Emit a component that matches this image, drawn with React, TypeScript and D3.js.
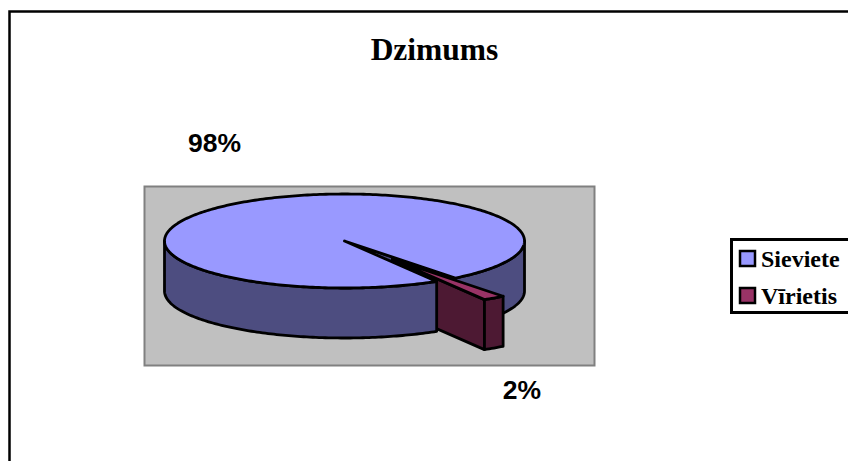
import React from "react";
import * as d3 from "d3";

const categories = ["Sieviete", "Vīrietis"];
const values = [98, 2];
const labels = ["98%", "2%"];
const topColors = ["#9999FF", "#993366"];
const sideColors = ["#4D4D80", "#4D1933"];

const W = 848, H = 461;
const cx = 344.5, cy = 241, rx = 180, ry = 47, depth = 50, explode = 0.47;
const rad = (d: number) => (d * Math.PI) / 180;

const sx = d3.scaleLinear().domain([-1, 1]).range([cx - rx, cx + rx]);
const sy = d3.scaleLinear().domain([-1, 1]).range([cy - ry, cy + ry]);

const startDeg = 149.2;
const slices = d3.pie<number>().sort(null).startAngle(rad(startDeg)).endAngle(rad(startDeg + 360))(values);
const [main, wedge] = slices;
const mid = (wedge.startAngle + wedge.endAngle) / 2;
const off: [number, number] = [Math.sin(mid) * explode, -Math.cos(mid) * explode];

type P = [number, number];
const pt = (a: number, o: P = [0, 0], dz = 0): P => [sx(Math.sin(a) + o[0]), sy(-Math.cos(a) + o[1]) + dz];
const centre = (o: P = [0, 0], dz = 0): P => [sx(o[0]), sy(o[1]) + dz];
const line = d3.line<P>();
const arcPts = (a0: number, a1: number, o: P = [0, 0], dz = 0): P[] => {
  const n = Math.max(2, Math.ceil(Math.abs(a1 - a0) / rad(1)));
  return d3.range(n + 1).map((i) => pt(a0 + ((a1 - a0) * i) / n, o, dz));
};
const closed = (p: P[]) => line(p) + "Z";
const wall = (a0: number, a1: number, o: P = [0, 0]) =>
  closed([...arcPts(a0, a1, o), ...arcPts(a1, a0, o, depth)]);
const face = (a: number, o: P = [0, 0]) =>
  closed([centre(o), pt(a, o), pt(a, o, depth), centre(o, depth)]);
const top = (a0: number, a1: number, o: P = [0, 0]) => closed([centre(o), ...arcPts(a0, a1, o)]);

const mainEnd = main.endAngle - 2 * Math.PI;
const strokeProps = { stroke: "#000", strokeWidth: 2.8, strokeLinejoin: "round" as const };

export default function App() {
  return (
    <svg width={W} height={H} style={{ position: "fixed", left: 0, top: 0, background: "#fff" }}>
      <rect x={9.5} y={11.5} width={W} height={H} fill="#fff" stroke="#000" strokeWidth={2.5} />
      <text x={434.5} y={60} textAnchor="middle" fontFamily="Liberation Serif" fontWeight="bold" fontSize={31.5}>
        Dzimums
      </text>
      <rect x={144.5} y={186.5} width={450} height={179} fill="#C0C0C0" stroke="#808080" strokeWidth={2} />

      {/* main slice: right wall and exposed cut */}
      <path d={wall(rad(90), mainEnd)} fill={sideColors[0]} {...strokeProps} />
      <path d={face(mainEnd)} fill={sideColors[0]} {...strokeProps} />
      {/* exploded slice walls */}
      <path d={face(wedge.endAngle, off)} fill={sideColors[1]} {...strokeProps} />
      <path d={wall(wedge.startAngle, wedge.endAngle, off)} fill={sideColors[1]} {...strokeProps} />
      {/* main slice: left wall and top */}
      <path d={wall(main.startAngle, rad(270))} fill={sideColors[0]} {...strokeProps} />
      <path d={top(main.startAngle, main.endAngle)} fill={topColors[0]} {...strokeProps} />
      <path d={top(wedge.startAngle, wedge.endAngle, off)} fill={topColors[1]} {...strokeProps} />

      <text x={214.5} y={152} textAnchor="middle" fontFamily="Liberation Sans" fontWeight="bold" fontSize={26.5}>
        {labels[0]}
      </text>
      <text x={522} y={399} textAnchor="middle" fontFamily="Liberation Sans" fontWeight="bold" fontSize={26.5}>
        {labels[1]}
      </text>

      <rect x={731.5} y={239.5} width={W} height={73} fill="#fff" stroke="#000" strokeWidth={3} />
      {categories.map((c, i) => (
        <g key={c}>
          <rect x={740} y={251 + i * 37} width={15} height={15} fill={topColors[i]} stroke="#000" strokeWidth={2.5} />
          <text x={761} y={267 + i * 37} fontFamily="Liberation Serif" fontWeight="bold" fontSize={24}>
            {c}
          </text>
        </g>
      ))}
    </svg>
  );
}
